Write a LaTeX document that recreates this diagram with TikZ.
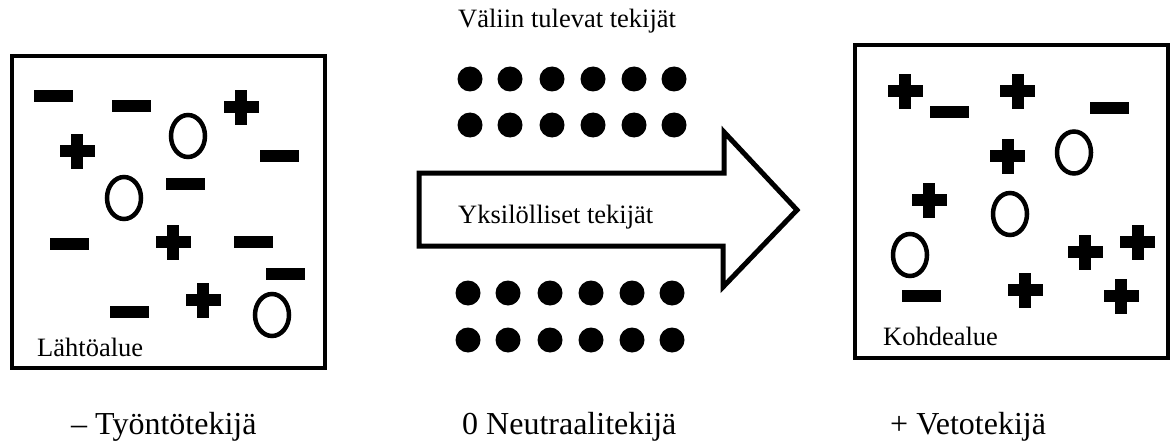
\documentclass[tikz,border=0pt]{standalone}
\usepackage{fontspec}
\setmainfont{Liberation Serif}
\usepackage{tikz}

\tikzset{
    areabox/.style={line width=4.5pt},
    zeromark/.style={line width=4.5pt},
    flowarrow/.style={line width=5pt, miter limit=10},
    boxlabel/.style={anchor=base west, inner sep=0pt, font=\fontsize{26.5}{30}\selectfont},
    factorlabel/.style={anchor=base west, inner sep=0pt, font=\fontsize{32}{36}\selectfont}
}

\begin{document}
\begin{tikzpicture}[x=1pt, y=-1pt]
    \useasboundingbox (0,0) rectangle (1174,441);
    % Source area
    \draw[areabox] (12,56) rectangle (325,368);
    \foreach \x/\y in {53.5/96, 131/106, 279/156, 185/184, 69/244, 253/242, 285/274, 129/312} {
        \fill (\x-19.5,\y-6) rectangle (\x+19.5,\y+6);
    }
    \foreach \x/\y in {241/107.5, 77/151, 173/242, 203/300} {
        \fill (\x-17.5,\y-6) rectangle (\x+17.5,\y+6);
        \fill (\x-6,\y-17.5) rectangle (\x+6,\y+17.5);
    }
    \foreach \x/\y in {188/136, 124/198, 272/315} {
        \draw[zeromark] (\x,\y) ellipse (17 and 21);
    }
    \node[boxlabel] (lahto) at (37,356) {Lähtöalue};

    % Target area
    \draw[areabox] (855,45) rectangle (1168,358);
    \foreach \x/\y in {949/112, 1109/108, 921/296} {
        \fill (\x-19.5,\y-6) rectangle (\x+19.5,\y+6);
    }
    \foreach \x/\y in {905/91.5, 1017.5/91.5, 1007.5/156, 929/200, 1085/252, 1137.5/242, 1025/290, 1121/296} {
        \fill (\x-17.5,\y-6) rectangle (\x+17.5,\y+6);
        \fill (\x-6,\y-17.5) rectangle (\x+6,\y+17.5);
    }
    \foreach \x/\y in {1074/152.5, 1010/214, 910/255} {
        \draw[zeromark] (\x,\y) ellipse (17 and 21);
    }
    \node[boxlabel] (kohde) at (883,345) {Kohdealue};

    % Intervening factors
    \node[boxlabel] (valiin) at (458,28) {Väliin tulevat tekijät};
    \foreach \x in {470,510,552,593,634,674} {
        \fill (\x,79) circle (12.5);
        \fill (\x,125) circle (12.5);
        \fill (\x-2,293) circle (12.5);
        \fill (\x-2,340) circle (12.5);
    }

    % Arrow
    \draw[flowarrow] (419,173) -- (724,173) -- (724,132) -- (797,210)
        -- (723,287) -- (723,246) -- (419,246) -- cycle;
    \node[boxlabel] (yksil) at (458,223) {Yksilölliset tekijät};

    % Factor types
    \node[factorlabel] (tyonto) at (71,434) {– Työntötekijä};
    \node[factorlabel] (neutr) at (462,434) {0 Neutraalitekijä};
    \node[factorlabel] (veto) at (890,434) {+ Vetotekijä};
\end{tikzpicture}
\end{document}
